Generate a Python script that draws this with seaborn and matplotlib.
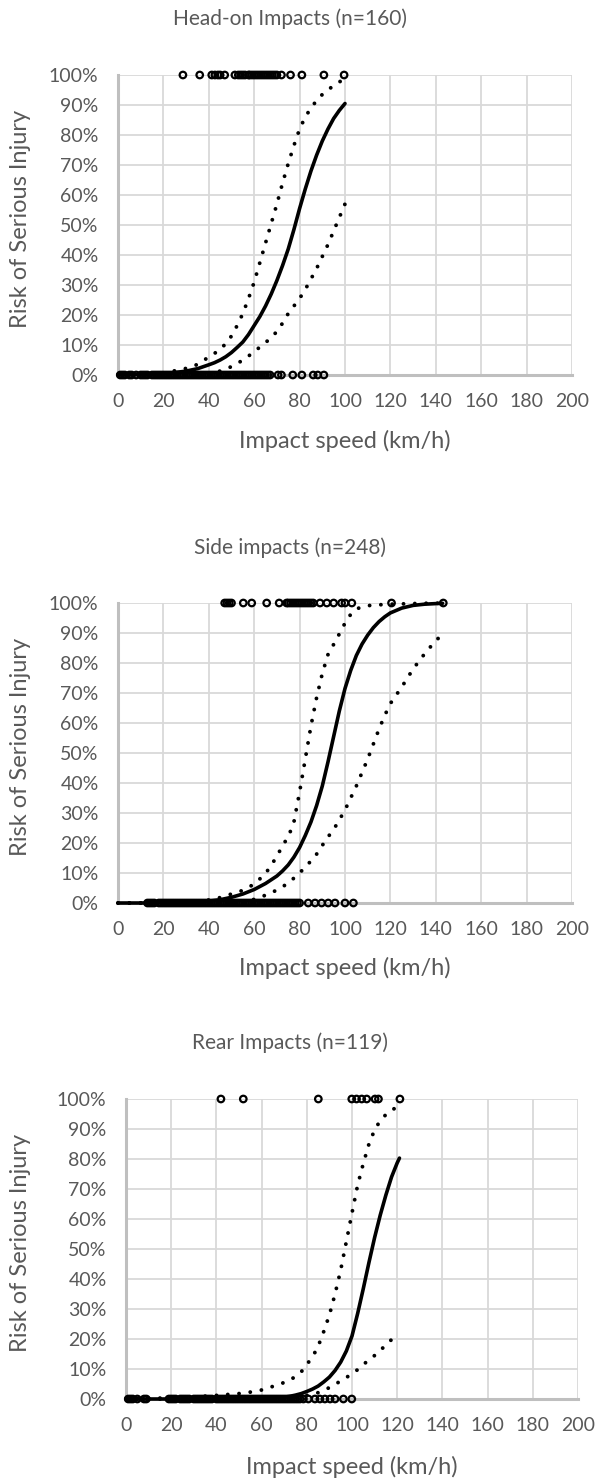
import numpy as np
import pandas as pd
import matplotlib
matplotlib.use("Agg")
import matplotlib.pyplot as plt
import seaborn as sns
from matplotlib.ticker import FuncFormatter, MultipleLocator

# ---------------- data ----------------
titles = ["Head-on Impacts (n=160)", "Side impacts (n=248)", "Rear Impacts (n=119)"]
x_label = "Impact speed (km/h)"
y_label = "Risk of Serious Injury"
x_ticks = [0, 20, 40, 60, 80, 100, 120, 140, 160, 180, 200]
y_ticks = [0, 10, 20, 30, 40, 50, 60, 70, 80, 90, 100]

# Head-on: fitted risk curve and confidence bounds (speed km/h, risk %)
head_speed = [0, 5, 10, 15, 20, 25, 30, 35, 40, 42.5, 45, 47.5, 50, 52.5, 55, 57.5, 60, 62.5,
              65, 67.5, 70, 72.5, 75, 77.5, 80, 82.5, 85, 87.5, 90, 92.5, 95, 97.5, 100]
head_fit   = [0.1, 0.1, 0.2, 0.3, 0.5, 0.8, 1.3, 2.1, 3.4, 4.1, 5.0, 6.1, 7.5, 9.2, 11.0, 13.5,
              16.5, 19.5, 23.0, 27.0, 31.5, 36.5, 42.0, 48.5, 55.5, 62.0, 68.0, 73.3, 78.0,
              82.0, 85.5, 88.2, 90.5]
head_upper = [0.1, 0.1, 0.2, 0.4, 0.7, 1.4, 2.2, 3.5, 6.0, 7.2, 8.5, 10.5, 13.0, 16.5, 20.5,
              25.5, 31.0, 37.5, 44.0, 50.5, 57.0, 64.0, 70.5, 76.5, 82.0, 86.0, 89.0, 91.5,
              93.5, 95.0, 96.5, 97.7, 98.7]
head_lower = [0.0, 0.0, 0.0, 0.0, 0.0, 0.1, 0.1, 0.3, 0.7, 1.0, 1.3, 2.0, 2.8, 3.8, 5.0, 6.3,
              7.8, 9.3, 10.8, 12.5, 14.5, 17.3, 20.5, 23.0, 25.5, 28.5, 32.0, 35.5, 39.5,
              43.5, 48.0, 52.5, 57.0]
head_injured = [28.6, 36, 41.3, 42.7, 44, 45, 47, 51.5, 53, 54, 55, 56, 57.5, 58, 59, 60, 61,
                62, 63, 64, 65, 66, 67, 68, 69, 70, 72, 76, 81, 90.7, 99.6]
head_uninjured = [1, 2, 3, 5, 6, 8, 10, 11, 12, 13, 15, 16, 17, 18, 19, 20, 21, 22, 23, 24, 25,
                  26, 27, 28, 29, 30, 31, 32, 33, 34, 35, 36, 37, 38, 39, 40, 41, 42, 43, 44,
                  45, 46, 47, 48, 49, 50, 51, 52, 53, 54, 55, 56, 57, 58, 59, 60, 61, 62, 63,
                  64, 65, 66, 67, 70.5, 72, 77, 81, 86, 88, 90.7]

# Side impacts
side_speed = [0, 10, 20, 30, 40, 45, 50, 55, 60, 65, 70, 72.5, 75, 77.5, 80, 82.5, 85, 87.5,
              90, 92.5, 95, 97.5, 100, 102.5, 105, 107.5, 110, 112.5, 115, 117.5, 120, 125,
              130, 135, 140, 143]
side_fit   = [0.0, 0.0, 0.1, 0.2, 0.6, 1.1, 1.9, 3.0, 4.5, 6.5, 9.0, 10.7, 12.7, 15.3, 18.5,
              22.5, 27.0, 32.5, 39.0, 47.0, 55.5, 64.0, 71.5, 77.5, 82.5, 86.3, 89.3, 91.8,
              93.8, 95.4, 96.7, 98.3, 99.2, 99.6, 99.8, 99.9]
side_upper = [0.0, 0.0, 0.1, 0.3, 1.0, 1.8, 3.0, 4.2, 6.3, 9.8, 15.5, 19.2, 22.0, 27.0, 37.0,
              48.0, 59.0, 68.5, 76.5, 82.8, 86.2, 89.7, 93.3, 96.2, 98.0, 98.7, 99.1, 99.3,
              99.4, 99.5, 99.6, 99.7, 99.8, 99.9, 99.9, 100.0]
side_lower = [0.0, 0.0, 0.0, 0.0, 0.0, 0.1, 0.2, 0.5, 1.2, 2.6, 4.3, 5.4, 6.7, 8.3, 10.0,
              12.0, 14.0, 16.3, 19.2, 22.0, 24.5, 27.7, 31.0, 35.0, 39.0, 43.5, 48.0, 53.0,
              58.0, 62.5, 66.5, 72.0, 78.0, 83.0, 87.5, 89.5]
side_injured = [47, 48, 49, 50, 55.2, 58.9, 65.5, 71, 74.3, 75, 76, 77, 78, 79, 80, 81, 82, 83,
                84, 85, 86, 89, 92, 95, 98.5, 100, 103, 120.5, 143.3]
side_uninjured = [13, 14, 15, 16, 18, 19, 20, 21, 22, 23, 24, 25, 26, 27, 28, 29, 30, 31, 32,
                  33, 34, 35, 36, 37, 38, 39, 40, 41, 42, 43, 44, 45, 46, 47, 48, 49, 50, 51,
                  52, 53, 54, 55, 56, 57, 58, 59, 60, 61, 62, 63, 64, 65, 66, 67, 68, 69, 70,
                  71, 72, 73, 74, 75, 76, 77, 78, 79, 80, 83.8, 86.8, 89.7, 92.6, 95.6, 100,
                  103.7]

# Rear impacts
rear_speed = [0, 10, 20, 30, 40, 50, 55, 60, 65, 70, 72.5, 75, 77.5, 80, 82.5, 85, 87.5, 90,
              92.5, 95, 97.5, 100, 102.5, 105, 107.5, 110, 112.5, 115, 117.5, 120, 121]
rear_fit   = [0.0, 0.0, 0.0, 0.0, 0.0, 0.05, 0.1, 0.2, 0.4, 0.6, 0.9, 1.3, 1.8, 2.5, 3.3, 4.3,
              5.7, 7.3, 9.5, 12.3, 16.0, 21.0, 28.5, 36.8, 45.5, 53.8, 61.3, 68.0, 74.0, 78.7,
              80.3]
rear_upper = [0.1, 0.2, 0.4, 0.7, 1.2, 1.8, 2.3, 3.0, 4.2, 5.5, 6.3, 7.5, 9.0, 11.5, 14.0,
              17.5, 22.5, 28.0, 35.0, 43.0, 52.5, 62.0, 71.3, 78.5, 85.0, 89.7, 92.8, 94.8,
              96.3, 97.3, 97.5]
rear_lower = [0.0, 0.0, 0.0, 0.0, 0.0, 0.0, 0.0, 0.05, 0.1, 0.3, 0.4, 0.6, 0.9, 1.2, 1.6, 2.1,
              2.9, 3.8, 4.9, 6.0, 7.2, 8.3, 9.8, 11.5, 13.0, 14.5, 16.2, 18.0, 19.8, 21.5, 22.0]
rear_injured = [42, 51.9, 85.1, 99.9, 102, 104.3, 106.5, 110.2, 111.7, 121.2]
rear_uninjured = [1, 2, 3, 5, 8, 9, 19, 20, 21, 22, 24, 25, 26, 27, 28, 30, 31, 32, 33, 34, 35,
                  36, 37, 38, 40, 41, 42, 43, 44, 45, 46, 47, 48, 49, 50, 51, 52, 53, 54, 55,
                  56, 57, 58, 59, 60, 61, 62, 63, 64, 65, 66, 67, 68, 69, 70, 71, 72, 73, 74,
                  75, 76, 77, 78.5, 80.7, 83.6, 85.8, 88, 90.3, 92.5, 96.2, 99.9]

panels = [
    (head_speed, head_fit, head_upper, head_lower, head_injured, head_uninjured),
    (side_speed, side_fit, side_upper, side_lower, side_injured, side_uninjured),
    (rear_speed, rear_fit, rear_upper, rear_lower, rear_injured, rear_uninjured),
]

# ---------------- styling ----------------
sns.set_style("white")
plt.rcParams["font.family"] = ["Lato", "DejaVu Sans"]
TXT = "#595959"
GRID = "#d9d9d9"
AXIS = "#bfbfbf"

W, H = 596, 1484
fig = plt.figure(figsize=(W / 100, H / 100), dpi=100)

# pixel boxes (left, right, top, bottom) and text y positions
boxes = [(118, 572, 75, 375), (118, 572, 603, 903), (126, 578, 1099, 1399)]
title_y = [19, 548, 1043]
xlab_y = [441, 968, 1467]

def fx(px):
    return px / W

def fy(py):
    return 1 - py / H

for i, (box, data) in enumerate(zip(boxes, panels)):
    l, r, t, b = box
    ax = fig.add_axes([fx(l), fy(b), (r - l) / W, (b - t) / H])
    spd, fit, up, lo, inj, uninj = data

    ax.set_xlim(0, 200)
    ax.set_ylim(0, 100)
    ax.xaxis.set_major_locator(MultipleLocator(20))
    ax.yaxis.set_major_locator(MultipleLocator(10))
    ax.grid(True, color=GRID, linewidth=1.3, zorder=0)
    ax.set_axisbelow(True)
    for s in ["top", "right"]:
        ax.spines[s].set_visible(False)
    for s in ["left", "bottom"]:
        ax.spines[s].set_color(AXIS)
        ax.spines[s].set_linewidth(2.2)
        ax.spines[s].set_zorder(1)

    df = pd.DataFrame({"speed": spd, "fit": fit, "upper": up, "lower": lo})
    for col in ["upper", "lower"]:
        sns.lineplot(data=df, x="speed", y=col, ax=ax, color="black", linewidth=2.8,
                     linestyle=(0, (0.01, 2.9)), dash_capstyle="round", zorder=3,
                     clip_on=False, estimator=None, sort=False)
    sns.lineplot(data=df, x="speed", y="fit", ax=ax, color="black", linewidth=2.6,
                 zorder=4, clip_on=False, estimator=None, sort=False,
                 solid_joinstyle="round")

    pts = pd.DataFrame({"speed": list(inj) + list(uninj),
                        "risk": [100] * len(inj) + [0] * len(uninj)})
    sns.scatterplot(data=pts, x="speed", y="risk", ax=ax, marker="o", s=22,
                    facecolor="none", edgecolor="black", linewidth=1.6, zorder=5,
                    clip_on=False, legend=False)

    ax.set_xticks(x_ticks)
    ax.set_yticks(y_ticks)
    ax.yaxis.set_major_formatter(FuncFormatter(lambda v, p: f"{v:.0f}%"))
    ax.tick_params(axis="both", length=0, labelsize=14, labelcolor=TXT)
    ax.tick_params(axis="x", pad=13)
    ax.tick_params(axis="y", pad=14)
    ax.set_xlabel("")
    ax.set_ylabel("")

    fig.text(fx(W / 2 - 8), fy(title_y[i]), titles[i], ha="center", va="center",
             fontsize=15, color=TXT)
    fig.text(fx((l + r) / 2), fy(xlab_y[i]), x_label, ha="center", va="center",
             fontsize=17, color=TXT)
    fig.text(fx(21), fy((t + b) / 2 - 6), y_label, ha="center", va="center",
             rotation=90, fontsize=17, color=TXT)

fig.savefig("out.png", dpi=100, facecolor="white")
